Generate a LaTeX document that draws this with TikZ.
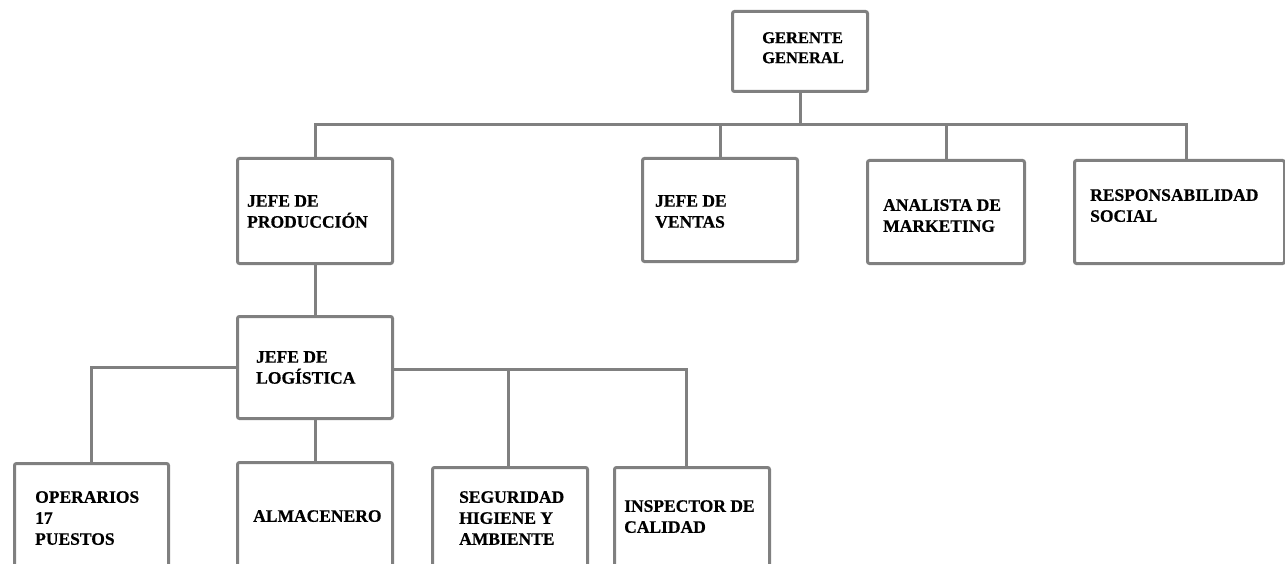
\documentclass[tikz,border=0pt]{standalone}
\usepackage{fontspec}
\setmainfont{Liberation Serif}
\newfontfamily\lblfont[BoldFeatures={FakeBold=0.6}]{Liberation Serif}
\definecolor{linegray}{RGB}{128,128,128}
\begin{document}
\begin{tikzpicture}[x=1pt,y=-1pt,
  box/.style={draw=linegray,line width=3pt,rounded corners=2pt,fill=white,
    inner sep=0pt,anchor=north west},
  txt/.style={font=\fontsize{17.5}{21}\selectfont\lblfont\bfseries,align=left,
    inner sep=0pt,anchor=north west,text=black},
  link/.style={draw=linegray,line width=3pt}]
\useasboundingbox (0,0) rectangle (1285,564);
\clip (0,0) rectangle (1285,564);

% boxes
\node[box,minimum width=135,minimum height=80]  (gg) at (731,10)  {};
\node[box,minimum width=155,minimum height=105] (jp) at (236,157) {};
\node[box,minimum width=155,minimum height=103] (jv) at (641,157) {};
\node[box,minimum width=157,minimum height=103] (am) at (866,159) {};
\node[box,minimum width=210,minimum height=103] (rs) at (1073,159) {};
\node[box,minimum width=155,minimum height=102] (jl) at (236,315) {};
\node[box,minimum width=154,minimum height=120] (op) at (13,462)  {};
\node[box,minimum width=155,minimum height=120] (al) at (236,461) {};
\node[box,minimum width=155,minimum height=120] (sh) at (431,466) {};
\node[box,minimum width=155,minimum height=120] (iq) at (613,466) {};

% labels
\node[txt,font=\fontsize{16.5}{20}\selectfont\lblfont\bfseries] (ggt) at (762,32) {GERENTE\\GENERAL};
\node[txt] (jpt) at (247,195) {JEFE DE\\PRODUCCIÓN};
\node[txt] (jvt) at (655,195) {JEFE DE\\VENTAS};
\node[txt] (amt) at (883,199) {ANALISTA DE\\MARKETING};
\node[txt] (rst) at (1090,189) {RESPONSABILIDAD\\SOCIAL};
\node[txt] (jlt) at (256,351) {JEFE DE\\LOGÍSTICA};
\node[txt] (opt) at (35,491)  {OPERARIOS\\17\\PUESTOS};
\node[txt] (alt) at (253,510) {ALMACENERO};
\node[txt] (sht) at (459,491) {SEGURIDAD\\HIGIENE Y\\AMBIENTE};
\node[txt] (iqt) at (624,500) {INSPECTOR DE\\CALIDAD};

% connector points
\coordinate (bus) at (798,125);
\coordinate (rsc) at (1186,159);
\coordinate (rb)  at (391,369);
\coordinate (iqc) at (686,466);
\coordinate (shc) at (508,466);

% connectors
\draw[link] (gg.south) -- (gg.south |- bus);
\draw[link] (jp.north) -- (jp.north |- bus) -- (rsc |- bus) -- (rsc);
\draw[link] (jv.north) -- (jv.north |- bus);
\draw[link] (am.north) -- (am.north |- bus);
\draw[link] (jp.south) -- (jl.north);
\draw[link] (jl.west) -| (op.north);
\draw[link] (jl.south) -- (al.north);
\draw[link] (rb) -| (iqc);
\draw[link] (shc) -- (shc |- rb);
\end{tikzpicture}
\end{document}
